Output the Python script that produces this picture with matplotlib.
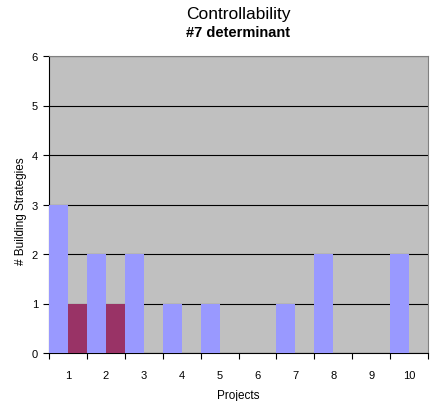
import numpy as np
import matplotlib
matplotlib.use("Agg")
from matplotlib import pyplot as plt

plt.rcParams['font.family'] = ['Liberation Sans', 'DejaVu Sans']

# data
projects = ['1', '2', '3', '4', '5', '6', '7', '8', '9', '10']
serie_azul = [3, 2, 2, 1, 1, 0, 1, 2, 0, 2]
serie_granate = [1, 1, 0, 0, 0, 0, 0, 0, 0, 0]

fig = plt.figure(figsize=(4.34, 4.02), dpi=100)
ax = fig.add_axes([49/434, 48/402, 379/434, 297/402])
ax.set_facecolor('#C0C0C0')

x = np.arange(len(projects))
w = 0.5
ax.bar(x - w/2, serie_azul, width=w, color='#9999FF', zorder=3)
ax.bar(x + w/2, serie_granate, width=w, color='#993366', zorder=3)

ax.set_xlim(-0.5, len(projects) - 0.5)
ax.set_ylim(0, 6)
ax.set_yticks(range(0, 7))
ax.yaxis.grid(True, color='black', linewidth=0.8, zorder=1)
ax.set_axisbelow(True)

# ticks on category borders, labels in the middle
ax.set_xticks(np.arange(-0.5, len(projects)), minor=False)
ax.set_xticklabels([])
ax.set_xticks(x, minor=True)
ax.set_xticklabels(projects, minor=True)
ax.tick_params(axis='x', which='minor', length=0, pad=12, labelsize=8)
ax.tick_params(axis='x', which='major', length=4, width=0.8, direction='out')
ax.tick_params(axis='y', length=4, width=0.8, labelsize=8, pad=4)

for s in ['top', 'right']:
    ax.spines[s].set_color('#808080')
for s in ['left', 'bottom']:
    ax.spines[s].set_color('black')

ax.set_xlabel('Projects', fontsize=8.5, labelpad=7)
ax.set_ylabel('# Building Strategies', fontsize=8.5)
ax.yaxis.set_label_coords(-22/379, 0.48)

fig.text(238/434, 1 - 15/402, 'Controllability', ha='center', va='center', fontsize=12.5)
fig.text(238/434, 1 - 33/402, '#7 determinant', ha='center', va='center', fontsize=10.5, fontweight='bold')

fig.savefig('out.png', dpi=100)
